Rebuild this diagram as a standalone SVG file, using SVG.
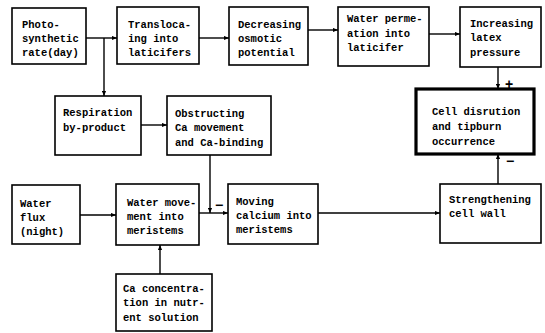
<svg xmlns="http://www.w3.org/2000/svg" width="545" height="333" viewBox="0 0 545 333">
<style>
.b{fill:#fff;stroke:#000;stroke-width:1.6}
.bt{fill:#fff;stroke:#000;stroke-width:3.2}
text{font-family:"Liberation Mono","DejaVu Sans Mono",monospace;font-size:10.5px;font-weight:bold;fill:#000}
.c line{stroke:#000;stroke-width:1.4;fill:none}
.s{font-family:"Liberation Sans",Arial,sans-serif;font-size:14px;font-weight:bold}
</style>
<defs>
<marker id="a" viewBox="0 0 6 6" refX="6" refY="3" markerWidth="5" markerHeight="5" markerUnits="userSpaceOnUse" orient="auto">
<path d="M0,0.5 L6,3 L0,5.5 Z" fill="#000"/>
</marker>
</defs>
<g class="c" id="connectors">
<line x1="86" y1="38" x2="117" y2="38" marker-end="url(#a)"/>
<line x1="104" y1="38" x2="104" y2="96" marker-end="url(#a)"/>
<line x1="199" y1="38" x2="229" y2="38" marker-end="url(#a)"/>
<line x1="308" y1="30" x2="338" y2="30" marker-end="url(#a)"/>
<line x1="429" y1="34" x2="460" y2="34" marker-end="url(#a)"/>
<line x1="498" y1="67" x2="498" y2="89" marker-end="url(#a)"/>
<line x1="141" y1="125" x2="167" y2="125" marker-end="url(#a)"/>
<line x1="210" y1="155" x2="210" y2="213" marker-end="url(#a)"/>
<line x1="80" y1="215" x2="116" y2="215" marker-end="url(#a)"/>
<line x1="199" y1="213" x2="228" y2="213" marker-end="url(#a)"/>
<line x1="160" y1="274" x2="160" y2="245" marker-end="url(#a)"/>
<line x1="318" y1="213" x2="440" y2="213" marker-end="url(#a)"/>
<line x1="498" y1="184" x2="498" y2="154" marker-end="url(#a)"/>
<text class="s" x="505" y="89">+</text>
<text class="s" x="215" y="210">−</text>
<text class="s" x="506" y="166">−</text>
</g>
<g id="photo"><rect class="b" x="12" y="8" width="74" height="56"/><text x="22" y="28">Photo-</text><text x="22" y="42">synthetic</text><text x="22" y="56">rate(day)</text></g>
<g id="transloc"><rect class="b" x="117" y="7" width="82" height="57"/><text x="128" y="28">Transloca-</text><text x="128" y="42">ing into</text><text x="128" y="56">laticifers</text></g>
<g id="decreasing"><rect class="b" x="229" y="7" width="79" height="58"/><text x="238" y="28">Decreasing</text><text x="238" y="42">osmotic</text><text x="238" y="56">potential</text></g>
<g id="waterperm"><rect class="b" x="338" y="7" width="91" height="59"/><text x="347" y="22">Water perme-</text><text x="347" y="37">ation into</text><text x="347" y="51">laticifer</text></g>
<g id="latex"><rect class="b" x="460" y="7" width="81" height="60"/><text x="470" y="27">Increasing</text><text x="470" y="41">latex</text><text x="470" y="56">pressure</text></g>
<g id="respiration"><rect class="b" x="55" y="96" width="86" height="59"/><text x="63" y="116">Respiration</text><text x="63" y="131">by-product</text></g>
<g id="obstructing"><rect class="b" x="167" y="96" width="104" height="59"/><text x="175" y="117">Obstructing</text><text x="175" y="131">Ca movement</text><text x="175" y="146">and Ca-binding</text></g>
<g id="cell"><rect class="bt" x="416" y="89" width="118" height="65"/><text x="432" y="115">Cell disrution</text><text x="432" y="130">and tipburn</text><text x="432" y="145">occurrence</text></g>
<g id="waterflux"><rect class="b" x="12" y="185" width="68" height="59"/><text x="20" y="207">Water</text><text x="20" y="221">flux</text><text x="20" y="235">(night)</text></g>
<g id="watermove"><rect class="b" x="116" y="184" width="83" height="61"/><text x="127" y="206">Water move-</text><text x="127" y="220">ment into</text><text x="127" y="234">meristems</text></g>
<g id="moving"><rect class="b" x="228" y="184" width="90" height="60"/><text x="236" y="205">Moving</text><text x="236" y="219">calcium into</text><text x="236" y="233">meristems</text></g>
<g id="strengthening"><rect class="b" x="440" y="184" width="101" height="59"/><text x="449" y="203">Strengthening</text><text x="449" y="217">cell wall</text></g>
<g id="caconc"><rect class="b" x="116" y="274" width="96" height="57"/><text x="123" y="292">Ca concentra-</text><text x="123" y="306">tion in nutr-</text><text x="123" y="321">ent solution</text></g>
</svg>
